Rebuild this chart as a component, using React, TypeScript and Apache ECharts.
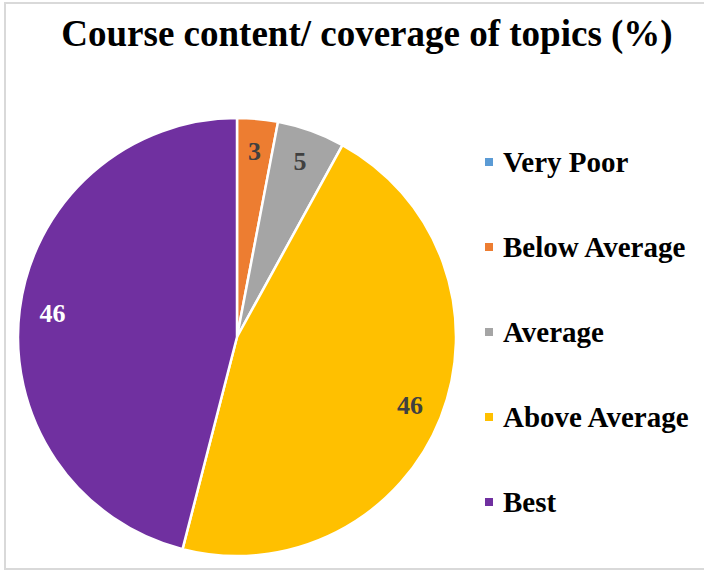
import React, { useEffect, useRef } from "react";
import * as echarts from "echarts";

const categories = ["Very Poor", "Below Average", "Average", "Above Average", "Best"];
const values = [0, 3, 5, 46, 46];
const colors = ["#5B9BD5", "#ED7D31", "#A5A5A5", "#FFC000", "#7030A0"];
const labelColors = ["#404040", "#404040", "#404040", "#404040", "#FFFFFF"];
const titleText = "Course content/ coverage of topics (%)";

const FONT = "'Liberation Serif', 'Times New Roman', serif";

export default function App() {
  const ref = useRef<HTMLDivElement>(null);
  useEffect(() => {
    if (!ref.current) return;
    const chart = echarts.init(ref.current, undefined, { renderer: "svg" });
    const data = categories.map((name, i) => ({
      name,
      value: values[i],
      itemStyle: { color: colors[i] },
    }));
    const labelData = categories.map((name, i) => ({
      name,
      value: values[i],
      label: { color: labelColors[i] },
    }));
    chart.setOption({
      animation: false,
      backgroundColor: "#ffffff",
      title: {
        text: titleText,
        left: 362,
        textAlign: "center",
        top: 10,
        textStyle: {
          fontFamily: FONT,
          fontWeight: "bold",
          fontSize: 37,
          color: "#000000",
        },
      },
      legend: {
        orient: "vertical",
        left: 483,
        top: 147,
        padding: 0,
        itemWidth: 10,
        itemHeight: 10,
        itemGap: 55,
        icon: "rect",
        data: categories,
        textStyle: {
          fontFamily: FONT,
          fontWeight: "bold",
          fontSize: 29,
          lineHeight: 30,
          color: "#000000",
          padding: [0, 0, 0, 4],
        },
      },
      graphic: [
        {
          type: "rect",
          shape: { x: 5, y: 3, width: 760, height: 566 },
          style: { fill: "none", stroke: "#d9d9d9", lineWidth: 2 },
          silent: true,
        },
      ],
      series: [
        {
          type: "pie",
          center: [237, 337],
          radius: 219,
          startAngle: 90,
          clockwise: true,
          data,
          label: { show: false },
          labelLine: { show: false },
          itemStyle: { borderColor: "#ffffff", borderWidth: 2.5 },
          emphasis: { disabled: true },
        },
        {
          type: "pie",
          center: [237, 337],
          radius: [147, 219],
          startAngle: 90,
          clockwise: true,
          silent: true,
          data: labelData,
          itemStyle: { color: "rgba(0,0,0,0)", borderWidth: 0 },
          label: {
            show: true,
            position: "inside",
            fontFamily: FONT,
            fontWeight: "bold",
            fontSize: 26,
            formatter: (p: any) => (p.value === 0 ? "" : String(p.value)),
          },
          labelLine: { show: false },
          emphasis: { disabled: true },
        },
      ],
    });
    return () => chart.dispose();
  }, []);
  return (
    <div
      ref={ref}
      style={{ position: "fixed", left: 0, top: 0, width: 704, height: 571 }}
    />
  );
}
